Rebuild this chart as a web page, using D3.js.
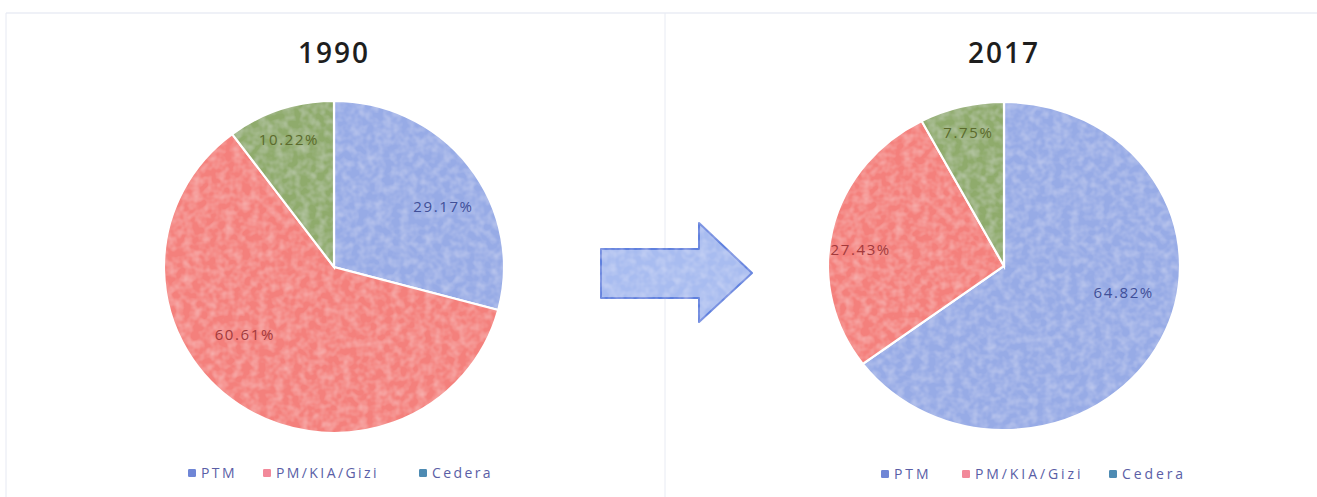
<!DOCTYPE html>
<html>
<head>
<meta charset="utf-8">
<script src="https://cdn.jsdelivr.net/npm/d3@7"></script>
<style>
  html, body { margin: 0; padding: 0; background: #ffffff; }
  svg { display: block; }
</style>
</head>
<body>
<svg id="chart" width="1317" height="497"></svg>
<script>
// ---- data ----
const categories = ["PTM", "PM/KIA/Gizi", "Cedera"];
const years = ["1990", "2017"];
const values1990 = [29.17, 60.61, 10.22];
const values2017 = [64.82, 27.43, 7.75];

// ---- styling / layout ----
const sliceColors = ["#97abe6", "#f4807c", "#8fab6c"];
const labelColors = ["#3f4f98", "#a23a3c", "#5b6a2c"];
const legendSwatch = ["#6f86d6", "#f2899a", "#4e8bb3"];

const panels = [
  { title: years[0], values: values1990, cx: 334, cy: 267, rx: 170, ry: 166, titleY: 63,
    // [angle shift in degrees, radius fraction] for each data label
    labelNudge: [[8, 0.74], [18, 0.665], [-0.7, 0.81]],
    legendY: 473, legendX: [192, 267, 423], legendSpacing: 2.4 },
  { title: years[1], values: values2017, cx: 1004, cy: 266, rx: 176, ry: 164, titleY: 63,
    labelNudge: [[-13, 0.70], [-5.8, 0.82], [0, 0.84]],
    legendY: 474, legendX: [885, 966, 1113], legendSpacing: 2.9 }
];

const svg = d3.select("#chart");

// mottled texture on the fills
const defs = svg.append("defs");
const tex = defs.append("filter").attr("id", "grain")
  .attr("x", "-5%").attr("y", "-5%").attr("width", "110%").attr("height", "110%");
tex.append("feTurbulence").attr("type", "fractalNoise").attr("baseFrequency", 0.12)
  .attr("numOctaves", 2).attr("seed", 4).attr("result", "noise");
tex.append("feColorMatrix").attr("in", "noise").attr("type", "matrix")
  .attr("values", "0 0 0 0 1  0 0 0 0 1  0 0 0 0 1  0 0 0 0.45 -0.16").attr("result", "spots");
tex.append("feComposite").attr("in", "spots").attr("in2", "SourceGraphic").attr("operator", "in").attr("result", "spotsIn");
tex.append("feMerge").selectAll("feMergeNode").data(["SourceGraphic", "spotsIn"]).join("feMergeNode").attr("in", d => d);

// faint frame lines
svg.append("line").attr("x1", 6).attr("x2", 1317).attr("y1", 13).attr("y2", 13)
  .attr("stroke", "#dfe3ef").attr("stroke-width", 1);
svg.append("line").attr("x1", 6).attr("x2", 6).attr("y1", 13).attr("y2", 497)
  .attr("stroke", "#e6e9f2").attr("stroke-width", 1);
svg.append("line").attr("x1", 665).attr("x2", 665).attr("y1", 13).attr("y2", 497)
  .attr("stroke", "#e8ebf3").attr("stroke-width", 1);

const pie = d3.pie().sort(null).value(d => d);

panels.forEach(p => {
  const g = svg.append("g");

  g.append("text")
    .attr("x", p.cx).attr("y", p.titleY)
    .attr("text-anchor", "middle")
    .attr("font-family", "Open Sans, sans-serif")
    .attr("font-weight", 600)
    .attr("font-size", 28)
    .attr("letter-spacing", 2)
    .attr("fill", "#1e1e1e")
    .text(p.title);

  const arcs = pie(p.values);
  const arc = d3.arc().innerRadius(0).outerRadius(p.rx);
  const sy = p.ry / p.rx;

  const pieG = g.append("g")
    .attr("transform", `translate(${p.cx},${p.cy}) scale(1,${sy})`);

  pieG.selectAll("path")
    .data(arcs)
    .join("path")
    .attr("d", arc)
    .attr("fill", (d, i) => sliceColors[i])
    .attr("stroke", "#ffffff")
    .attr("stroke-width", 2.2)
    .attr("vector-effect", "non-scaling-stroke")
    .attr("filter", "url(#grain)");

  // data labels
  g.selectAll("text.lbl")
    .data(arcs)
    .join("text")
    .attr("class", "lbl")
    .attr("x", (d, i) => {
      const a = (d.startAngle + d.endAngle) / 2 + p.labelNudge[i][0] * Math.PI / 180;
      return p.cx + Math.sin(a) * p.rx * p.labelNudge[i][1];
    })
    .attr("y", (d, i) => {
      const a = (d.startAngle + d.endAngle) / 2 + p.labelNudge[i][0] * Math.PI / 180;
      return p.cy - Math.cos(a) * p.ry * p.labelNudge[i][1];
    })
    .attr("dy", "0.35em")
    .attr("text-anchor", "middle")
    .attr("font-family", "Open Sans, sans-serif")
    .attr("font-size", 15)
    .attr("letter-spacing", 1.6)
    .attr("fill", (d, i) => labelColors[i])
    .text(d => d.data.toFixed(2) + "%");

  // legend
  const leg = g.selectAll("g.leg")
    .data(categories)
    .join("g")
    .attr("class", "leg")
    .attr("transform", (d, i) => `translate(${p.legendX[i]},${p.legendY})`);
  leg.append("rect")
    .attr("x", -4).attr("y", -4).attr("width", 8).attr("height", 8)
    .attr("rx", 1.2)
    .attr("fill", (d, i) => legendSwatch[i]);
  leg.append("text")
    .attr("x", 9).attr("dy", "0.36em")
    .attr("font-family", "Open Sans, sans-serif")
    .attr("font-size", 14)
    .attr("letter-spacing", p.legendSpacing)
    .attr("fill", "#5a5ea6")
    .text(d => d);
});

// arrow between the two pies
const arrowPts = [[601, 249], [699, 249], [699, 223], [752, 273], [699, 322], [699, 298], [601, 298]];
svg.append("path")
  .attr("d", d3.line()(arrowPts) + "Z")
  .attr("fill", "#a8bcf0")
  .attr("stroke", "#5f80de")
  .attr("stroke-width", 2)
  .attr("stroke-linejoin", "round")
  .attr("filter", "url(#grain)");
</script>
</body>
</html>
